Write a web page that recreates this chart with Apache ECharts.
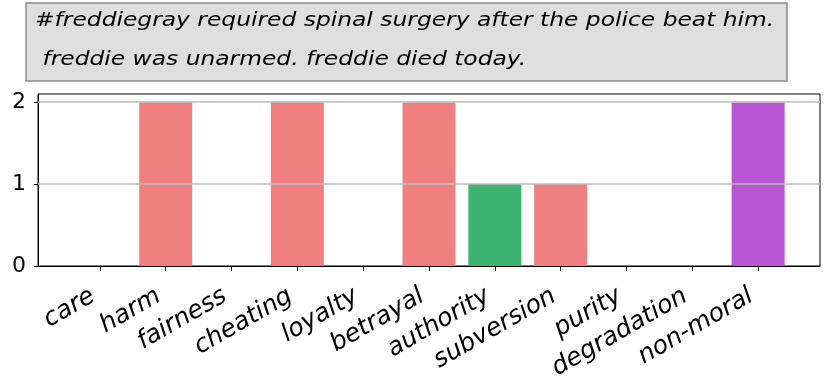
<!DOCTYPE html>
<html>
<head>
<meta charset="utf-8">
<script src="https://cdn.jsdelivr.net/npm/echarts@6/dist/echarts.min.js"></script>
<style>
  html, body { margin: 0; padding: 0; background: #fff; }
  #chart { width: 831px; height: 390px; }
</style>
</head>
<body>
<div id="chart"></div>
<script>
// data
var categories = ['care', 'harm', 'fairness', 'cheating', 'loyalty', 'betrayal',
                  'authority', 'subversion', 'purity', 'degradation', 'non-moral'];
var counts = [0, 2, 0, 2, 0, 2, 1, 1, 0, 0, 2];
var barColors = ['#f08080', '#f08080', '#f08080', '#f08080', '#f08080', '#f08080',
                 '#3cb371', '#f08080', '#f08080', '#f08080', '#ba55d3'];
var yTicks = [0, 1, 2];
var titleLines = ['#freddiegray required spinal surgery after the police beat him.',
                  ' freddie was unarmed. freddie died today.'];

(function () {
    var myChart = echarts.init(document.getElementById('chart'));
    var font = 'DejaVu Sans';
    var xTicks = categories.map(function (c, i) { return i; });
    // the source picture is a bit wider than tall, so the title text is stretched
    var titleFont = 'italic 19px "' + font + '"';

    var option = {
        animation: false,
        graphic: [
            {
                type: 'rect',
                shape: { x: 26, y: 3, width: 761, height: 78 },
                style: { fill: '#dedede', stroke: '#8c8c8c', lineWidth: 1.5 }
            },
            {
                type: 'text', x: 35, y: 21, scaleX: 1.23,
                style: { text: titleLines[0], font: titleFont, fill: '#000', textVerticalAlign: 'middle' }
            },
            {
                type: 'text', x: 35, y: 60, scaleX: 1.23,
                style: { text: titleLines[1], font: titleFont, fill: '#000', textVerticalAlign: 'middle' }
            }
        ],
        grid: {
            left: 38,
            right: 11,
            top: 94,
            bottom: 124,
            show: true,
            borderColor: '#000',
            borderWidth: 1
        },
        xAxis: {
            type: 'value',
            min: -0.94,
            max: 10.94,
            splitLine: { show: false },
            axisLine: { show: true, onZero: false, lineStyle: { color: '#000', width: 1 } },
            axisTick: { show: true, customValues: xTicks, length: 5, lineStyle: { color: '#000' } },
            axisLabel: {
                customValues: xTicks,
                rotate: 30,
                margin: 10,
                verticalAlign: 'top',
                align: 'right',
                padding: [0, 15, 0, 0],
                fontFamily: font,
                fontStyle: 'italic',
                fontSize: 25,
                color: '#000',
                formatter: function (v) { return categories[Math.round(v)]; }
            }
        },
        yAxis: {
            type: 'value',
            min: 0,
            max: 2.1,
            splitLine: { show: false },
            axisLine: { show: true, onZero: false, lineStyle: { color: '#000', width: 1 } },
            axisTick: { show: true, customValues: yTicks, length: 4, lineStyle: { color: '#000' } },
            axisLabel: {
                customValues: yTicks,
                margin: 12,
                fontFamily: font,
                fontSize: 22,
                color: '#000'
            }
        },
        series: [
            {
                type: 'bar',
                barWidth: 53,
                data: counts.map(function (v, i) {
                    return { value: [i, v], itemStyle: { color: barColors[i] } };
                }),
                markLine: {
                    silent: true,
                    symbol: 'none',
                    label: { show: false },
                    lineStyle: { color: '#bdbdbd', width: 1.5, type: 'solid' },
                    data: [{ yAxis: 1 }, { yAxis: 2 }]
                }
            }
        ]
    };

    myChart.setOption(option);
    window.addEventListener('resize', function () {
        myChart.resize();
    });
})();
</script>
</body>
</html>
